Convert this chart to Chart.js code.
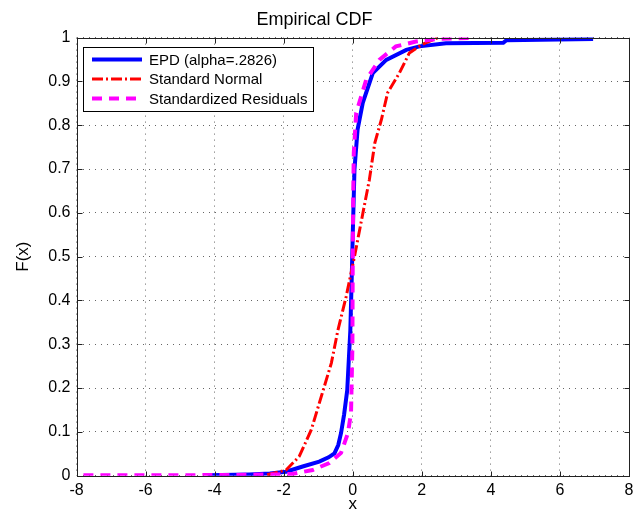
<!DOCTYPE html>
<html>
<head>
<meta charset="utf-8">
<title>Empirical CDF</title>
<script src="https://cdn.jsdelivr.net/npm/chart.js@4.4.0/dist/chart.umd.min.js"></script>
<style>
  html, body { margin: 0; padding: 0; background: #fff; }
  #wrap { width: 643px; height: 516px; }
</style>
</head>
<body>
<div id="wrap"><canvas id="cdf-chart"></canvas></div>
<script>
const FONT = '"Liberation Sans", Arial, Helvetica, sans-serif';

// EPD (alpha=.2826)
const epdX = [-4.2, -3.0, -2.4, -1.93, -1.45, -0.97, -0.7, -0.53, -0.42, -0.34, -0.25, -0.16, -0.07, -0.03, 0.0, 0.05, 0.14, 0.29, 0.58, 0.97, 1.55, 1.93, 2.7, 4.36, 4.45, 6.96];
const epdY = [0.001, 0.003, 0.005, 0.009, 0.021, 0.032, 0.042, 0.051, 0.07, 0.097, 0.14, 0.195, 0.332, 0.45, 0.55, 0.699, 0.79, 0.851, 0.919, 0.949, 0.972, 0.98, 0.987, 0.988, 0.994, 0.997];

// Standard Normal
const normX = [-2.48, -1.93, -1.55, -1.2, -0.91, -0.62, -0.43, -0.19, 0.05, 0.29, 0.48, 0.64, 0.83, 1.01, 1.35, 1.64, 1.93, 2.03, 2.47];
const normY = [0.002, 0.013, 0.044, 0.105, 0.181, 0.257, 0.332, 0.409, 0.5, 0.598, 0.675, 0.76, 0.813, 0.874, 0.919, 0.965, 0.98, 0.985, 1.0];

// Standardized Residuals
const residX = [-7.8, -5.0, -3.0, -2.2, -1.75, -1.16, -0.68, -0.34, -0.14, -0.05, -0.01, 0.0, 0.01, 0.03, 0.1, 0.39, 0.77, 1.25, 1.83, 2.43, 3.44];
const residY = [0.001, 0.001, 0.002, 0.003, 0.004, 0.013, 0.029, 0.052, 0.097, 0.143, 0.295, 0.5, 0.62, 0.737, 0.828, 0.904, 0.949, 0.98, 0.991, 0.997, 0.999];

const xTicks = [-8, -6, -4, -2, 0, 2, 4, 6, 8];
const yTicks = [0, 0.1, 0.2, 0.3, 0.4, 0.5, 0.6, 0.7, 0.8, 0.9, 1];

const toPoints = (xs, ys) => xs.map((x, i) => ({ x: x, y: ys[i] }));

// matlab style box round the axes, ticks pointing inward on all 4 sides
const axesBox = {
  id: 'axesBox',
  afterDatasetsDraw(chart) {
    const { ctx, chartArea: a, scales } = chart;
    const L = Math.round(a.left) + 0.5, R = Math.round(a.right) + 0.5;
    const T = Math.round(a.top) + 0.5, B = Math.round(a.bottom) + 0.5;
    const len = 5;
    ctx.save();
    ctx.strokeStyle = '#222';
    ctx.lineWidth = 1;
    ctx.setLineDash([]);
    ctx.strokeRect(L, T, R - L, B - T);
    ctx.beginPath();
    xTicks.forEach(v => {
      const px = Math.round(scales.x.getPixelForValue(v)) + 0.5;
      ctx.moveTo(px, B); ctx.lineTo(px, B - len);
      ctx.moveTo(px, T); ctx.lineTo(px, T + len);
    });
    yTicks.forEach(v => {
      const py = Math.round(scales.y.getPixelForValue(v)) + 0.5;
      ctx.moveTo(L, py); ctx.lineTo(L + len, py);
      ctx.moveTo(R, py); ctx.lineTo(R - len, py);
    });
    ctx.stroke();
    ctx.restore();
  }
};

// boxed legend in the upper left corner
const boxLegend = {
  id: 'boxLegend',
  afterDraw(chart) {
    const { ctx, chartArea: a } = chart;
    const sets = chart.data.datasets;
    const left = Math.round(a.left) + 6.5;
    const top = Math.round(a.top) + 9.5;
    const rowH = 19.5, lineW = 50, padL = 8.5, gap = 7, padR = 6;
    ctx.save();
    ctx.font = '15px ' + FONT;
    const textW = Math.max(...sets.map(d => ctx.measureText(d.label).width));
    const w = Math.round(padL + lineW + gap + textW + padR);
    const h = Math.round(rowH * sets.length + 5);
    ctx.fillStyle = '#fff';
    ctx.fillRect(left, top, w, h);
    ctx.strokeStyle = '#000';
    ctx.lineWidth = 1;
    ctx.strokeRect(left, top, w, h);
    sets.forEach((d, i) => {
      const cy = top + 12 + i * rowH;
      ctx.beginPath();
      ctx.strokeStyle = d.borderColor;
      ctx.lineWidth = d.borderWidth;
      ctx.setLineDash(d.borderDash || []);
      ctx.moveTo(left + padL, cy);
      ctx.lineTo(left + padL + lineW, cy);
      ctx.stroke();
      ctx.setLineDash([]);
      ctx.fillStyle = '#000';
      ctx.textBaseline = 'middle';
      ctx.textAlign = 'left';
      ctx.fillText(d.label, left + padL + lineW + gap, cy + 1);
    });
    ctx.restore();
  }
};

new Chart(document.getElementById('cdf-chart'), {
  type: 'line',
  data: {
    datasets: [
      {
        label: 'EPD (alpha=.2826)',
        data: toPoints(epdX, epdY),
        borderColor: '#0000ff',
        borderWidth: 4,
        order: 3,
      },
      {
        label: 'Standard Normal',
        data: toPoints(normX, normY),
        borderColor: '#ff0000',
        borderWidth: 3,
        borderDash: [11, 3, 2, 3],
        order: 2,
      },
      {
        label: 'Standardized Residuals',
        data: toPoints(residX, residY),
        borderColor: '#ff00ff',
        borderWidth: 4,
        borderDash: [10, 7],
        order: 1,
      },
    ],
  },
  options: {
    responsive: true,
    maintainAspectRatio: false,
    animation: false,
    devicePixelRatio: 1,
    layout: { padding: { left: 0, right: 14, top: 0, bottom: 0 } },
    elements: {
      point: { radius: 0, hoverRadius: 0 },
      line: { tension: 0, fill: false, borderCapStyle: 'butt' },
    },
    plugins: {
      legend: { display: false },
      tooltip: { enabled: false },
      title: {
        display: true,
        text: 'Empirical CDF',
        color: '#000',
        font: { family: FONT, size: 18, weight: 'normal' },
        padding: { top: 9, bottom: 7 },
      },
    },
    scales: {
      x: {
        type: 'linear',
        min: -8,
        max: 8,
        afterBuildTicks: s => { s.ticks = xTicks.map(v => ({ value: v })); },
        afterFit: s => { s.height = 40.3; },
        ticks: { color: '#000', font: { family: FONT, size: 16 }, padding: 5, maxRotation: 0, autoSkip: false, callback: v => String(v) },
        grid: { color: '#666', lineWidth: 1, drawTicks: false },
        border: { display: false, dash: [1, 5] },
        title: {
          display: true,
          text: 'x',
          color: '#000',
          font: { family: FONT, size: 17 },
          padding: { top: 0, bottom: 1 },
        },
      },
      y: {
        type: 'linear',
        min: 0,
        max: 1,
        afterBuildTicks: s => { s.ticks = yTicks.map(v => ({ value: v })); },
        afterFit: s => { s.width = 76.5; },
        ticks: { color: '#000', font: { family: FONT, size: 16 }, padding: 6, autoSkip: false, callback: v => String(+v.toFixed(1)) },
        grid: { color: '#666', lineWidth: 1, drawTicks: false },
        border: { display: false, dash: [1, 5] },
        title: {
          display: true,
          text: 'F(x)',
          color: '#000',
          font: { family: FONT, size: 17 },
          padding: { top: 13, bottom: 0 },
        },
      },
    },
  },
  plugins: [axesBox, boxLegend],
});
</script>
</body>
</html>
